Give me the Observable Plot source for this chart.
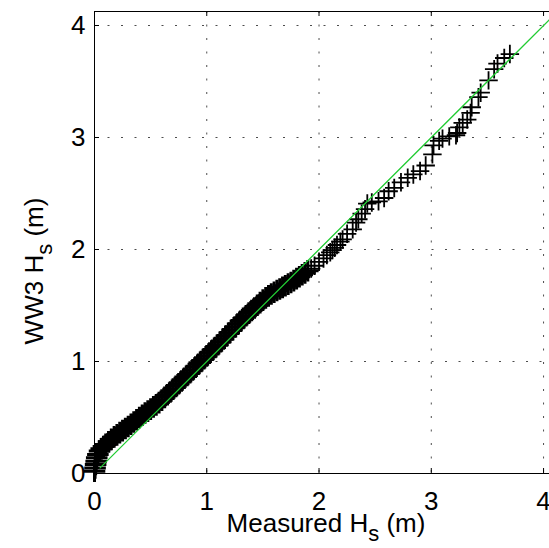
<!DOCTYPE html>
<html>
<head>
<meta charset="utf-8">
<script src="https://cdn.jsdelivr.net/npm/d3@7"></script>
<script src="https://cdn.jsdelivr.net/npm/@observablehq/plot@0.6"></script>
<style>
  html, body { margin: 0; padding: 0; background: #fff; }
  svg { display: block; }
</style>
</head>
<body>
<div id="chart"></div>
<script>
// Axis limits and ticks
const xLimits = [0, 4.053];
const yLimits = [0, 4.125];
const xTicks = [0, 1, 2, 3, 4];
const yTicks = [0, 1, 2, 3, 4];

// Quantile pairs, dense part (measured Hs up to ~1.9 m)
const denseMeasuredHs = [
  0.000, 0.005, 0.010, 0.015, 0.020, 0.030, 0.045, 0.060, 0.080,
  0.100, 0.125, 0.150, 0.175, 0.200, 0.225, 0.250, 0.275, 0.300, 0.325,
  0.350, 0.375, 0.400, 0.425, 0.450, 0.475, 0.500, 0.525, 0.550, 0.575,
  0.600, 0.625, 0.650, 0.675, 0.700, 0.725, 0.750, 0.775, 0.800, 0.825,
  0.850, 0.875, 0.900, 0.925, 0.950, 0.975, 1.000, 1.025, 1.050, 1.075,
  1.100, 1.125, 1.150, 1.175, 1.200, 1.225, 1.250, 1.275, 1.300, 1.325,
  1.350, 1.375, 1.400, 1.425, 1.450, 1.475, 1.500, 1.525, 1.550, 1.575,
  1.600, 1.625, 1.650, 1.675, 1.700, 1.725, 1.750, 1.775, 1.800, 1.825,
  1.850, 1.875, 1.900
];
const denseWw3Hs = [
  0.020, 0.050, 0.080, 0.110, 0.140, 0.170, 0.200, 0.220, 0.240,
  0.260, 0.283, 0.305, 0.327, 0.345, 0.365, 0.383, 0.402, 0.420, 0.440,
  0.460, 0.480, 0.500, 0.520, 0.540, 0.557, 0.575, 0.595, 0.613, 0.633,
  0.655, 0.680, 0.703, 0.728, 0.753, 0.778, 0.802, 0.826, 0.850, 0.875,
  0.900, 0.925, 0.950, 0.975, 1.000, 1.025, 1.050, 1.075, 1.100, 1.125,
  1.150, 1.176, 1.202, 1.228, 1.255, 1.282, 1.308, 1.334, 1.360, 1.385,
  1.408, 1.432, 1.455, 1.478, 1.502, 1.526, 1.548, 1.568, 1.586, 1.603,
  1.619, 1.634, 1.648, 1.662, 1.676, 1.691, 1.706, 1.722, 1.740, 1.757,
  1.774, 1.791, 1.810
];

// Quantile pairs, upper tail (measured Hs above ~1.9 m)
const tailMeasuredHs = [
  1.930, 1.960, 2.000, 2.040, 2.070, 2.100, 2.120, 2.140,
  2.160, 2.190, 2.210, 2.250, 2.300, 2.330, 2.350, 2.380, 2.410, 2.430, 2.470,
  2.530, 2.580, 2.620, 2.670, 2.730, 2.790, 2.840, 2.900, 2.950, 3.010,
  3.020, 3.070, 3.100, 3.160, 3.220, 3.230, 3.250, 3.280, 3.320, 3.350,
  3.360, 3.420, 3.440, 3.510, 3.560, 3.590, 3.650, 3.700
];
const tailWw3Hs = [
  1.830, 1.855, 1.890, 1.920, 1.950, 1.975, 1.995, 2.015,
  2.040, 2.070, 2.090, 2.140, 2.180, 2.240, 2.270, 2.320, 2.360, 2.410, 2.420,
  2.430, 2.460, 2.520, 2.550, 2.600, 2.640, 2.670, 2.700, 2.750, 2.850,
  2.930, 2.970, 2.990, 3.010, 3.020, 3.040, 3.090, 3.130, 3.160, 3.220,
  3.270, 3.360, 3.400, 3.510, 3.610, 3.660, 3.710, 3.745
];

// Reference (1:1) line end points
const refLineX = [0.05, 4.2];
const refLineY = [0.05, 4.2];

const densePts = denseMeasuredHs.map((m, i) => ({measured: m, ww3: denseWw3Hs[i]}));
const tailPts = tailMeasuredHs.map((m, i) => ({measured: m, ww3: tailWw3Hs[i]}));
const refLine = refLineX.map((x, i) => ({x, y: refLineY[i]}));

const W = 549, H = 548;
const mL = 94, mR = 0, mT = 11, mB = 75;
const frameW = W - mL - mR, frameH = H - mT - mB;
const gridStyle = {stroke: "#000", strokeOpacity: 0.7, strokeWidth: 1, strokeDasharray: "2,11.5"};

const chart = Plot.plot({
  width: W,
  height: H,
  marginLeft: mL,
  marginRight: mR,
  marginTop: mT,
  marginBottom: mB,
  style: {fontFamily: "'Liberation Sans', Arial, sans-serif", background: "#fff", color: "#000"},
  x: {domain: xLimits},
  y: {domain: yLimits},
  marks: [
    Plot.gridX(xTicks.slice(1), gridStyle),
    Plot.gridY(yTicks.slice(1), gridStyle),
    Plot.ruleX([xLimits[0]], {stroke: "#000", strokeWidth: 1}),
    Plot.ruleY([yLimits[0]], {stroke: "#000", strokeWidth: 1}),
    Plot.ruleY([yLimits[1]], {stroke: "#000", strokeWidth: 1}),
    Plot.tickX(xTicks, {x: d => d, insetTop: frameH - 5, stroke: "#000"}),
    Plot.tickX(xTicks, {x: d => d, insetBottom: frameH - 5, stroke: "#000"}),
    Plot.tickY(yTicks, {y: d => d, insetRight: frameW - 5, stroke: "#000"}),
    Plot.dot(densePts, {x: "measured", y: "ww3", symbol: "plus", r: 7, stroke: "#000", strokeWidth: 3}),
    Plot.dot(tailPts, {x: "measured", y: "ww3", symbol: "plus", r: 6, stroke: "#000", strokeWidth: 1.8}),
    Plot.line(refLine, {x: "x", y: "y", stroke: "#22cc33", strokeWidth: 1.3, clip: true}),
    Plot.axisX({ticks: xTicks, tickSize: 0, tickPadding: 18, fontSize: 26, label: null, tickFormat: d => String(d)}),
    Plot.axisY({ticks: yTicks, tickSize: 0, tickPadding: 9, fontSize: 26, label: null, tickFormat: d => String(d)})
  ]
});

const svg = d3.select(chart);
svg.attr("font-family", "'Liberation Sans', Arial, sans-serif");

// x-axis label with subscript
const xl = svg.append("text")
  .attr("x", 326).attr("y", 532)
  .attr("text-anchor", "middle")
  .attr("font-size", 26)
  .attr("fill", "#000");
xl.append("tspan").text("Measured H");
xl.append("tspan").attr("dy", 9).attr("font-size", 22).text("s");
xl.append("tspan").attr("dy", -9).text(" (m)");

// y-axis label with subscript
const yl = svg.append("text")
  .attr("transform", "translate(43,271) rotate(-90)")
  .attr("text-anchor", "middle")
  .attr("font-size", 26)
  .attr("fill", "#000");
yl.append("tspan").text("WW3 H");
yl.append("tspan").attr("dy", 9).attr("font-size", 22).text("s");
yl.append("tspan").attr("dy", -9).text(" (m)");

document.getElementById("chart").appendChild(chart);
</script>
</body>
</html>
